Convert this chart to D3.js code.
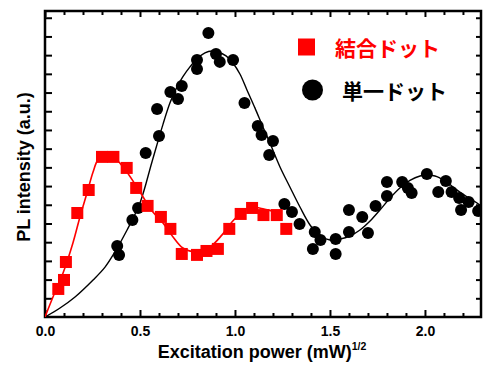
<!DOCTYPE html>
<html>
<head>
<meta charset="utf-8">
<script src="https://cdn.jsdelivr.net/npm/d3@7"></script>
<style>
  body { margin: 0; background: #fff; }
  svg { display: block; }
</style>
</head>
<body>
<div id="chart"></div>
<script>
// [sqrt(P), intensity]
const coupledDots = [
  [0.07, 1.50], [0.10, 1.98], [0.11, 2.94], [0.17, 5.56], [0.23, 6.79],
  [0.30, 8.56], [0.36, 8.56], [0.43, 7.97], [0.48, 6.90], [0.54, 5.94],
  [0.61, 5.35], [0.66, 4.71], [0.72, 3.37], [0.80, 3.32], [0.85, 3.53],
  [0.91, 3.64], [0.97, 4.71], [1.03, 5.51], [1.09, 5.83], [1.15, 5.45],
  [1.22, 5.45], [1.27, 4.71]
];
const coupledFit = [
  [0, 0], [0.042, 1.07], [0.095, 2.35], [0.147, 3.96], [0.184, 5.35],
  [0.221, 6.63], [0.253, 7.75], [0.279, 8.40], [0.316, 8.61], [0.358, 8.56],
  [0.411, 8.02], [0.484, 6.95], [0.526, 6.26], [0.568, 5.61], [0.621, 5.03],
  [0.674, 4.28], [0.726, 3.69], [0.80, 3.48], [0.868, 3.74], [0.932, 4.39],
  [0.984, 5.08], [1.037, 5.61], [1.089, 5.88], [1.147, 5.78], [1.237, 5.56]
];
const singleDots = [
  [0.38, 3.80], [0.39, 3.32], [0.46, 5.19], [0.49, 5.83], [0.53, 8.77],
  [0.60, 9.68], [0.59, 11.12], [0.66, 12.03], [0.70, 11.66], [0.72, 12.35],
  [0.80, 13.26], [0.80, 13.74], [0.86, 15.19], [0.90, 14.06], [0.92, 13.64],
  [0.99, 13.74], [1.05, 11.44], [1.12, 10.21], [1.14, 9.73], [1.20, 9.41],
  [1.18, 8.66], [1.26, 6.04], [1.30, 5.61], [1.34, 4.97], [1.42, 4.55],
  [1.45, 4.12], [1.41, 3.64], [1.53, 4.17], [1.53, 3.37], [1.60, 4.55],
  [1.60, 5.72], [1.67, 5.35], [1.70, 4.49], [1.74, 5.94], [1.80, 6.47],
  [1.80, 7.22], [1.88, 7.22], [1.91, 6.90], [1.93, 6.63], [2.01, 7.65],
  [2.11, 7.27], [2.07, 6.68], [2.14, 6.68], [2.18, 6.36], [2.23, 6.15],
  [2.19, 5.72], [2.28, 5.67]
];
const singleFit = [
  [0, 0], [0.079, 0.48], [0.158, 1.07], [0.253, 1.98], [0.316, 2.67],
  [0.368, 3.48], [0.432, 4.65], [0.50, 6.10], [0.563, 8.29], [0.621, 10.30],
  [0.658, 11.45], [0.695, 12.30], [0.726, 12.85], [0.763, 13.37], [0.80, 13.80],
  [0.842, 14.12], [0.879, 14.22], [0.911, 14.17], [0.953, 13.96], [0.989, 13.58],
  [1.026, 12.99], [1.063, 12.14], [1.105, 11.18], [1.147, 10.16], [1.184, 9.30],
  [1.237, 8.02], [1.289, 6.95], [1.342, 5.88], [1.395, 4.92], [1.447, 4.33],
  [1.50, 4.12], [1.553, 4.17], [1.605, 4.33], [1.658, 4.65], [1.711, 5.13],
  [1.763, 5.72], [1.816, 6.36], [1.868, 6.90], [1.921, 7.30], [1.974, 7.54],
  [2.011, 7.59], [2.053, 7.54], [2.079, 7.43], [2.116, 7.22],
  [2.147, 6.95], [2.184, 6.68], [2.221, 6.42], [2.258, 6.20], [2.295, 5.94]
];
const xLabels = ["0.0", "0.5", "1.0", "1.5", "2.0"];
const legendNames = ["結合ドット", "単一ドット"];

const width = 485, height = 365;
const m = { top: 11, right: 4, bottom: 48, left: 45 };
const font = "'Liberation Sans', Arial, sans-serif";

const svg = d3.select("#chart").append("svg").attr("width", width).attr("height", height);

const x = d3.scaleLinear().domain([0, 2.295]).range([m.left, width - m.right]);
const y = d3.scaleLinear().domain([0, 16.36]).range([height - m.bottom, m.top]);

const xMajor = xLabels.map(Number);
const xMinor = d3.range(1, 23).map(i => i / 10).filter(v => Math.abs(v * 2 - Math.round(v * 2)) > 1e-6);
const yTicks = d3.range(1, 17);

svg.append("defs").append("clipPath").attr("id", "plot")
  .append("rect").attr("x", m.left).attr("y", m.top)
  .attr("width", width - m.left - m.right).attr("height", height - m.top - m.bottom);

// axes, ticks pointing inward
const tickStyle = g => {
  g.select(".domain").remove();
  g.selectAll("line").attr("stroke", "#000").attr("stroke-width", 2);
};
svg.append("g").attr("transform", `translate(0,${height - m.bottom})`)
  .call(d3.axisBottom(x).tickValues(xMinor).tickSize(-4).tickFormat(""))
  .call(tickStyle);
svg.append("g").attr("transform", `translate(0,${height - m.bottom})`)
  .call(d3.axisBottom(x).tickValues(xMajor).tickSize(-7).tickPadding(9)
    .tickFormat((d, i) => xLabels[i]))
  .call(tickStyle)
  .call(g => g.selectAll("text").attr("font-family", font).attr("font-weight", "bold")
    .attr("font-size", 14).attr("fill", "#000"));
svg.append("g").attr("transform", `translate(0,${m.top})`)
  .call(d3.axisTop(x).tickValues(xMinor).tickSize(-4).tickFormat(""))
  .call(tickStyle);
svg.append("g").attr("transform", `translate(0,${m.top})`)
  .call(d3.axisTop(x).tickValues(xMajor).tickSize(-6).tickFormat(""))
  .call(tickStyle);
svg.append("g").attr("transform", `translate(${m.left},0)`)
  .call(d3.axisLeft(y).tickValues(yTicks).tickSize(-7).tickFormat(""))
  .call(tickStyle);
svg.append("g").attr("transform", `translate(${width - m.right},0)`)
  .call(d3.axisRight(y).tickValues(yTicks).tickSize(-5).tickFormat(""))
  .call(tickStyle);

svg.append("rect")
  .attr("x", m.left).attr("y", m.top)
  .attr("width", width - m.left - m.right).attr("height", height - m.top - m.bottom)
  .attr("fill", "none").attr("stroke", "#000").attr("stroke-width", 2.5);

// fitted curves
const line = d3.line().x(d => x(d[0])).y(d => y(d[1])).curve(d3.curveCatmullRom);
const plot = svg.append("g").attr("clip-path", "url(#plot)");
plot.append("path").datum(singleFit).attr("fill", "none").attr("stroke", "#000")
  .attr("stroke-width", 1.4).attr("d", line);
plot.append("path").datum(coupledFit).attr("fill", "none").attr("stroke", "#ff0000")
  .attr("stroke-width", 1.6).attr("d", line);

// markers
plot.selectAll(".single").data(singleDots).join("circle")
  .attr("cx", d => x(d[0])).attr("cy", d => y(d[1])).attr("r", 6).attr("fill", "#000");
plot.selectAll(".coupled").data(coupledDots).join("rect")
  .attr("x", d => x(d[0]) - 6).attr("y", d => y(d[1]) - 6)
  .attr("width", 12).attr("height", 12).attr("fill", "#ff0000");

// legend
const jp = "'Noto Sans CJK JP', sans-serif";
svg.append("rect").attr("x", 298).attr("y", 38.5).attr("width", 17).attr("height", 17).attr("fill", "#ff0000");
svg.append("text").attr("x", 335).attr("y", 47).attr("dominant-baseline", "central")
  .attr("font-family", jp).attr("font-weight", "bold").attr("font-size", 21)
  .attr("fill", "#ff0000").text(legendNames[0]);
svg.append("circle").attr("cx", 312.5).attr("cy", 90).attr("r", 10.5).attr("fill", "#000");
svg.append("text").attr("x", 342).attr("y", 90).attr("dominant-baseline", "central")
  .attr("font-family", jp).attr("font-weight", "bold").attr("font-size", 21)
  .attr("fill", "#000").text(legendNames[1]);

// axis titles
const xt = svg.append("text").attr("x", 262).attr("y", 358).attr("text-anchor", "middle")
  .attr("font-family", font).attr("font-weight", "bold").attr("font-size", 18).attr("fill", "#000");
xt.append("tspan").text("Excitation power (mW)");
xt.append("tspan").attr("dy", -8).attr("font-size", 10.5).text("1/2");

svg.append("text").attr("transform", "translate(30,167) rotate(-90)").attr("text-anchor", "middle")
  .attr("font-family", font).attr("font-weight", "bold").attr("font-size", 18).attr("fill", "#000")
  .text("PL intensity (a.u.)");
</script>
</body>
</html>
